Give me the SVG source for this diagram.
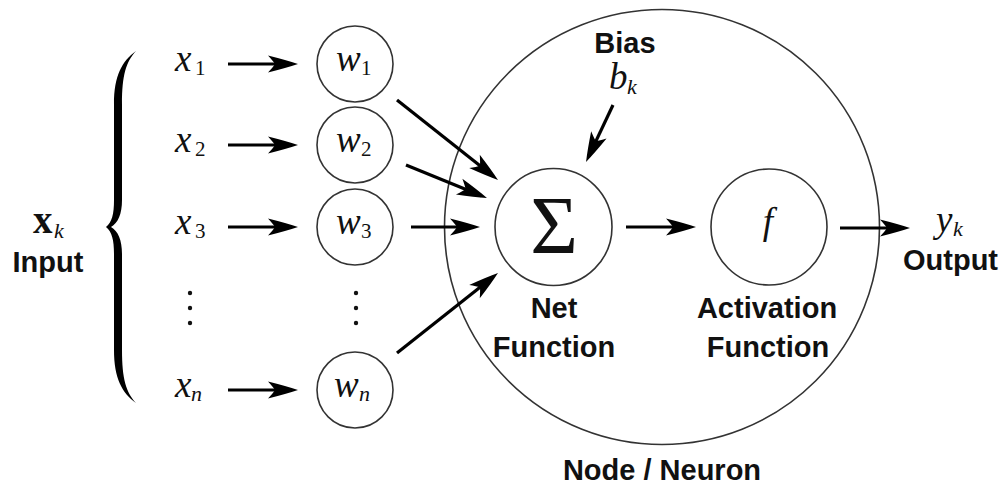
<svg xmlns="http://www.w3.org/2000/svg" width="1004" height="487" viewBox="0 0 1004 487">
  <defs>
    <marker id="ah" markerUnits="userSpaceOnUse" orient="auto" refX="0" refY="0" markerWidth="40" markerHeight="20" viewBox="-30 -10 40 20" overflow="visible">
      <path d="M6,0 Q-6,-4 -24,-8.5 Q-19,-3 -17,0 Q-19,3 -24,8.5 Q-6,4 6,0 Z" fill="#000"/>
    </marker>
    <style>
      .node { fill: #fff; stroke: #333; stroke-width: 1.6; }
      .big { fill: none; stroke: #333; stroke-width: 1.6; }
      .conn { stroke: #000; stroke-width: 3.2; fill: none; marker-end: url(#ah); }
      .lbl { font-family: "Liberation Sans", Arial, sans-serif; font-weight: bold; font-size: 29px; fill: #111; }
      .mi { font-family: "Liberation Serif", "Times New Roman", serif; font-style: italic; font-size: 37px; fill: #111; }
      .sub { font-family: "Liberation Serif", "Times New Roman", serif; font-size: 21px; fill: #111; }
      .subi { font-family: "Liberation Serif", "Times New Roman", serif; font-style: italic; font-size: 22px; fill: #111; }
      .dot { fill: #111; }
    </style>
  </defs>
  <rect width="1004" height="487" fill="#fff"/>

  <g id="neuron">
    <circle class="big" cx="662" cy="227" r="217.5"/>
    <text class="lbl" x="662" y="480" text-anchor="middle">Node / Neuron</text>
  </g>

  <g id="input">
    <path d="M136,51 C122,61 114,76 114,104 L114,200 C114,214 112,222 106,227 C112,232 114,240 114,254 L114,350 C114,378 122,393 136,403 C126,392 122,379 122,350 L122,254 C122,240 118,231 111,227 C118,223 122,214 122,200 L122,104 C122,75 126,62 136,51 Z" fill="#000"/>
    <text x="33" y="233" font-family="Liberation Serif, serif" font-weight="bold" font-size="39" fill="#111">x</text>
    <text class="subi" x="54" y="238">k</text>
    <text class="lbl" x="48" y="272" text-anchor="middle">Input</text>
  </g>

  <g id="x1"><text class="mi" x="175" y="71">x</text><text class="sub" x="195" y="75">1</text></g>
  <g id="x2"><text class="mi" x="175" y="152">x</text><text class="sub" x="195" y="156">2</text></g>
  <g id="x3"><text class="mi" x="175" y="234">x</text><text class="sub" x="195" y="238">3</text></g>
  <g id="xdots"><circle class="dot" cx="190" cy="293" r="2.2"/><circle class="dot" cx="190" cy="308" r="2.2"/><circle class="dot" cx="190" cy="323" r="2.2"/></g>
  <g id="xn"><text class="mi" x="175" y="397">x</text><text class="subi" x="191" y="401">n</text></g>

  <g id="w1"><circle class="node" cx="355" cy="64" r="38"/><text class="mi" x="336" y="71">w</text><text class="sub" x="361" y="75">1</text></g>
  <g id="w2"><circle class="node" cx="355" cy="145" r="38"/><text class="mi" x="336" y="152">w</text><text class="sub" x="361" y="156">2</text></g>
  <g id="w3"><circle class="node" cx="355" cy="227" r="38"/><text class="mi" x="336" y="234">w</text><text class="sub" x="361" y="238">3</text></g>
  <g id="wdots"><circle class="dot" cx="356" cy="293" r="2.2"/><circle class="dot" cx="356" cy="308" r="2.2"/><circle class="dot" cx="356" cy="323" r="2.2"/></g>
  <g id="wn"><circle class="node" cx="355" cy="390" r="38"/><text class="mi" x="334" y="397">w</text><text class="subi" x="359" y="401">n</text></g>

  <g id="bias">
    <text class="lbl" x="625" y="53" text-anchor="middle">Bias</text>
    <text class="mi" x="609" y="89">b</text><text class="subi" x="627" y="94">k</text>
  </g>

  <g id="net">
    <circle class="node" cx="553.5" cy="227" r="58.5"/>
    <text x="554" y="253" text-anchor="middle" font-family="Liberation Serif, serif" font-size="82" fill="#111">Σ</text>
    <text class="lbl" x="554" y="318" text-anchor="middle">Net</text>
    <text class="lbl" x="554" y="357" text-anchor="middle">Function</text>
  </g>

  <g id="activation">
    <circle class="node" cx="769" cy="227" r="58"/>
    <text class="mi" x="768" y="234" text-anchor="middle">f</text>
    <text class="lbl" x="767" y="318" text-anchor="middle">Activation</text>
    <text class="lbl" x="768" y="357" text-anchor="middle">Function</text>
  </g>

  <g id="output">
    <text class="mi" x="936" y="232">y</text><text class="subi" x="953" y="236">k</text>
    <text class="lbl" x="903" y="270">Output</text>
  </g>

  <g id="connectors">
    <line class="conn" x1="228" y1="64" x2="292" y2="64"/>
    <line class="conn" x1="228" y1="145" x2="292" y2="145"/>
    <line class="conn" x1="228" y1="227" x2="292" y2="227"/>
    <line class="conn" x1="228" y1="390" x2="292" y2="390"/>
    <line class="conn" x1="397" y1="100" x2="493.3" y2="176.3"/>
    <line class="conn" x1="406" y1="165" x2="481.4" y2="195.7"/>
    <line class="conn" x1="411" y1="227" x2="474" y2="227"/>
    <line class="conn" x1="397" y1="353" x2="493.3" y2="276.7"/>
    <line class="conn" x1="613" y1="105" x2="588.6" y2="156.6"/>
    <line class="conn" x1="626" y1="227" x2="690" y2="227"/>
    <line class="conn" x1="840" y1="228" x2="904" y2="228"/>
  </g>
</svg>
